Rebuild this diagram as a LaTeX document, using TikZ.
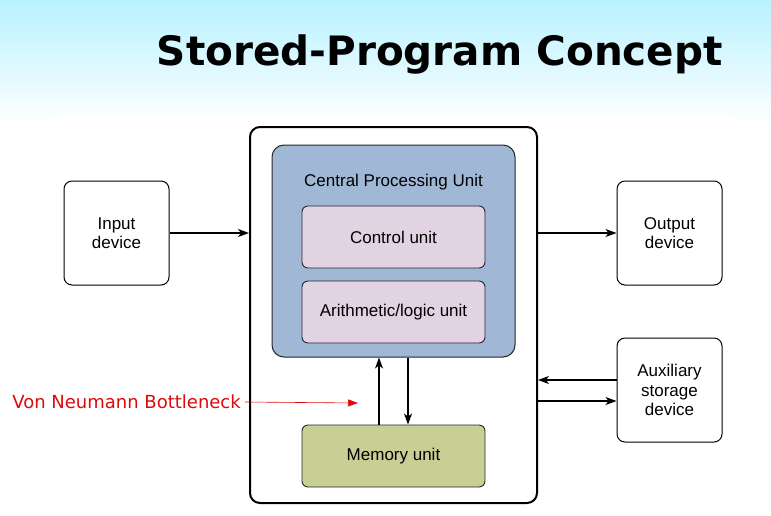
\documentclass[tikz,border=0pt]{standalone}
\usepackage{fontspec}
\setmainfont{Liberation Sans}
\newfontfamily\titlefont{DejaVu Sans}
\usetikzlibrary{arrows.meta}
\definecolor{skytop}{RGB}{184,242,255}
\definecolor{cpufill}{RGB}{160,184,214}
\definecolor{unitfill}{RGB}{226,211,226}
\definecolor{memfill}{RGB}{200,206,148}
\definecolor{notered}{RGB}{220,10,10}
\tikzset{
  devbox/.style={draw=black, line width=1pt, rounded corners=8pt, fill=white, align=center,
    minimum width=105pt, minimum height=104pt, inner sep=0pt, font=\fontsize{17}{19.5}\selectfont},
  unitbox/.style={draw=black!85, line width=0.9pt, rounded corners=6pt, fill=unitfill,
    minimum width=183pt, minimum height=62pt, inner sep=0pt, font=\fontsize{17}{19.5}\selectfont},
  flow/.style={line width=1.2pt, -{Stealth[length=11pt,width=8pt,inset=3pt]}},
  lbl/.style={font=\fontsize{17}{19.5}\selectfont, inner sep=0pt}
}
\begin{document}
\begin{tikzpicture}[x=1pt,y=-1pt]
\useasboundingbox (0,0) rectangle (771,515);
% sky gradient behind the title
\shade[top color=skytop, bottom color=white] (0,0) rectangle (771,125);
\fill[white] (0,125) rectangle (771,515);
\fill[white] (52,115) rectangle (733,515);
\node[anchor=base east, font=\titlefont\bfseries\fontsize{40.5}{44}\selectfont, inner sep=0pt] (title) at (723,65) {Stored-Program Concept};

% computer enclosure
\node[draw=black, line width=2pt, rounded corners=10pt, minimum width=287pt, minimum height=376pt, inner sep=0pt] (comp) at (393.5,315) {};
% central processing unit
\node[draw=black!85, line width=1pt, rounded corners=12pt, fill=cpufill, minimum width=243pt, minimum height=212pt, inner sep=0pt] (cpu) at (393.5,251) {};
\node[lbl] (cpulbl) at (393.5,182) {Central Processing Unit};
\node[unitbox] (cu) at (393.5,237) {Control unit};
\node[unitbox] (alu) at (393.5,312) {Arithmetic/logic unit};
\node[unitbox, fill=memfill] (mem) at (393.5,456) {Memory unit};

% peripheral devices
\node[devbox] (in) at (116.5,233) {Input\\device};
\node[devbox] (out) at (669.5,233) {Output\\device};
\node[devbox] (aux) at (669.5,390) {Auxiliary\\storage\\device};

% data paths
\draw[flow] (in.east) -- (comp.west |- in.east);
\draw[flow] (comp.east |- out.west) -- (out.west);
\draw[flow] (aux.west |- 0,380) -- (comp.east |- 0,380);
\draw[flow] (comp.east |- 0,401) -- (aux.west |- 0,401);
\draw[flow] (mem.north -| 379,0) -- (cpu.south -| 379,0);
\draw[flow] (cpu.south -| 408,0) -- (mem.north -| 408,0);

% bottleneck annotation
\node[anchor=east, text=notered, font=\titlefont\fontsize{18}{20}\selectfont, inner sep=0pt] (neck) at (241,402) {Von Neumann Bottleneck};
\coordinate (neckend) at (358,403);
\draw[notered, line width=0.6pt, -{Triangle[length=10pt,width=7pt]}] (neck.east) ++(4,0) -- (neckend);
\end{tikzpicture}
\end{document}
